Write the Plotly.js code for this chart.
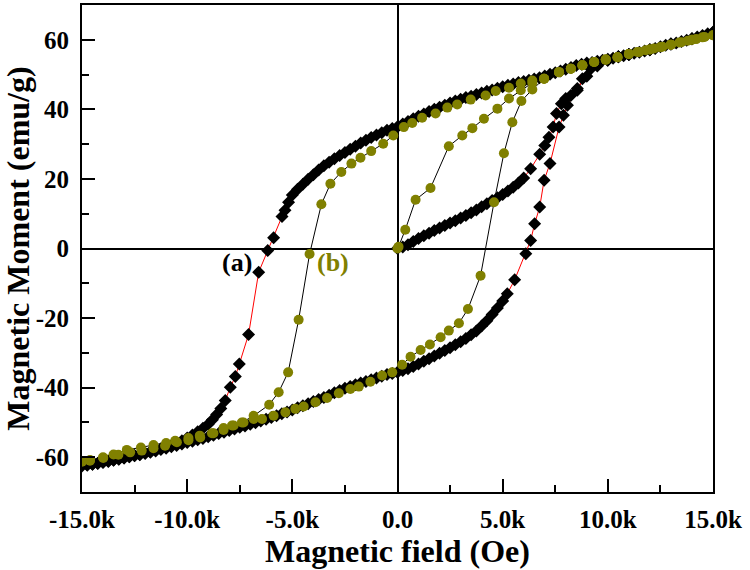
<!DOCTYPE html>
<html>
<head>
<meta charset="utf-8">
<script src="https://cdn.plot.ly/plotly-3.0.1.min.js"></script>
<style>html,body{margin:0;padding:0;background:#fff;}#chart{width:750px;height:570px;}</style>
</head>
<body>
<div id="chart"></div>
<script>
// ---- Sample (a): field (Oe) and moment (emu/g), in measurement order ----
const fieldA = [
  // initial magnetisation
  0, 250, 500, 750, 1000, 1250, 1500, 1750, 2000, 2250, 2500, 2750, 3000, 3250, 3500,
  3750, 4000, 4250, 4500, 4750, 5000, 5250, 5500, 5750, 6000,
  6330, 6760, 7000, 7200, 7400, 7560, 7790, 8000, 8240, 8550, 9000, 9500, 10000,
  10500, 11000, 12000, 13000, 14000, 15000,
  // descending branch
  14750, 14500, 14250, 14000, 13750, 13500, 13250, 13000, 12750, 12500, 12250, 12000,
  11750, 11500, 11250, 11000, 10750, 10500, 10250, 10000, 9750, 9500, 9250, 9000,
  8750, 8500, 8250, 8000, 7750, 7500, 7250, 7000, 6750, 6500, 6250, 6000, 5750, 5500,
  5250, 5000, 4750, 4500, 4250, 4000, 3750, 3500, 3250, 3000, 2750, 2500, 2250, 2000,
  1750, 1500, 1250, 1000, 750, 500, 250, 0, -250, -500, -750, -1000, -1250, -1500,
  -1750, -2000, -2250, -2500, -2750, -3000, -3250, -3500, -3750, -4000, -4250, -4500,
  -4750, -5000, -5180,
  -5350, -5490, -5890, -6170, -6600, -7080, -7520, -7710, -7950, -8190,
  -8400, -8600, -8800, -9000, -9250, -9500, -9750, -10000, -10250, -10500, -10750,
  -11000, -11250, -11500, -11750, -12000, -12250, -12500, -12750, -13000, -13250,
  -13500, -13750, -14000, -14250, -14500, -14750, -15000,
  // ascending branch
  -14750, -14500, -14250, -14000, -13750, -13500, -13250, -13000, -12750, -12500,
  -12250, -12000, -11750, -11500, -11250, -11000, -10750, -10500, -10250, -10000,
  -9750, -9500, -9250, -9000, -8750, -8500, -8250, -8000, -7750, -7500, -7250, -7000,
  -6750, -6500, -6250, -6000, -5750, -5500, -5250, -5000, -4750, -4500, -4250, -4000,
  -3750, -3500, -3250, -3000, -2750, -2500, -2250, -2000, -1750, -1500, -1250, -1000,
  -750, -500, -250, 0, 250, 500, 750, 1000, 1250, 1500, 1750, 2000, 2250, 2500, 2750,
  3000, 3250, 3500, 3750, 4000, 4250, 4500, 4750, 5000, 5220,
  5570, 6100, 6330, 6520, 6760, 6970, 7250, 7680, 7890, 8080, 8550, 8790, 9190, 9500,
  9990, 10500, 11000, 12000, 13000, 14000, 15000
];
const momentA = [
  0, 0.4, 1.1, 2.0, 2.9, 3.7, 4.4, 5.2, 5.9, 6.6, 7.3, 8.0, 8.8, 9.5, 10.3,
  11.1, 12.0, 12.9, 13.8, 14.6, 15.5, 16.5, 17.6, 18.8, 20.3,
  22.9, 27.1, 29.6, 32.0, 34.9, 38.8, 41.6, 43.1, 44.0, 46.0, 49.5, 52.5, 54.1,
  55.1, 55.8, 57.1, 58.8, 60.3, 62.2,
  61.7, 61.2, 60.8, 60.3, 59.9, 59.5, 59.1, 58.8, 58.4, 58.0, 57.5, 57.1,
  56.8, 56.4, 56.1, 55.8, 55.4, 55.1, 54.7, 54.4, 54.1, 53.8, 53.5, 53.3,
  53.0, 52.6, 52.0, 51.5, 51.0, 50.5, 50.1, 49.6, 49.1, 48.7, 48.4, 48.0, 47.7, 47.3,
  46.9, 46.5, 46.1, 45.6, 45.2, 44.7, 44.3, 43.8, 43.4, 42.9, 42.4, 41.8, 41.2, 40.6,
  40.0, 39.4, 38.7, 38.0, 37.3, 36.5, 35.8, 35.0, 34.5, 34.0, 33.3, 32.6, 31.9, 31.1,
  30.3, 29.4, 28.5, 27.6, 26.7, 25.8, 24.8, 23.8, 22.6, 21.2, 19.9, 18.5,
  17.0, 15.4, 13.3,
  11.0, 9.2, 3.1, -0.6, -6.8, -24.7, -33.2, -36.8, -39.9, -43.7,
  -46.0, -47.7, -49.2, -50.5, -51.7, -52.7, -53.6, -54.5, -55.3, -56.0, -56.6,
  -57.1, -57.6, -58.0, -58.4, -58.8, -59.2, -59.5, -59.9, -60.2, -60.6,
  -60.9, -61.2, -61.5, -61.8, -62.0, -62.3, -62.5,
  -62.2, -62.0, -61.7, -61.4, -61.1, -60.8, -60.5, -60.2, -59.9, -59.6,
  -59.3, -58.9, -58.6, -58.2, -57.8, -57.4, -57.0, -56.6, -56.2, -55.8,
  -55.4, -55.0, -54.6, -54.1, -53.7, -53.2, -52.8, -52.3, -51.9, -51.4, -51.0, -50.5,
  -50.1, -49.6, -49.1, -48.6, -48.1, -47.5, -47.0, -46.4, -45.8, -45.2, -44.6, -44.0,
  -43.4, -42.8, -42.2, -41.5, -40.8, -40.2, -39.7, -39.2, -38.7, -38.2, -37.7, -37.2,
  -36.7, -36.2, -35.9, -35.6, -35.1, -34.6, -33.9, -33.2, -32.4, -31.7, -30.9, -30.1, -29.3, -28.5, -27.7,
  -26.8, -25.9, -24.8, -23.7, -22.3, -20.8, -19.0, -17.1, -15.1, -13.0,
  -9.0, -1.5, 2.3, 7.1, 11.9, 19.6, 24.4, 34.9, 38.3, 41.2, 45.5, 48.8, 51.7, 52.8,
  54.1, 55.1, 55.8, 57.1, 58.8, 60.3, 62.2
];

// ---- Sample (b) ----
const fieldB = [
  // initial magnetisation
  0, 50, 370, 860, 1570, 2440, 3080, 3560, 4110, 4750, 5300, 5860, 6410, 6970,
  7680, 8240, 8790, 9350, 9900, 10460, 11000, 11400, 11800, 12200, 12600, 13000,
  13400, 13800, 14200, 14600, 15000,
  // descending branch
  14500, 14000, 13500, 13000, 12500, 12000, 11500, 11000, 10460, 9900, 9350, 8790,
  8240, 7680, 6970, 6410, 5860, 5300, 4670, 4190, 3480, 2840, 2370, 1810, 1170, 700,
  300, -200, -680, -1250, -1760, -2190, -2670, -3190, -3620, -4180, -4700, -5200,
  -5650, -6100, -6840, -7400, -7790, -8270, -8750, -9380, -9940, -10490, -11050,
  -11600, -12160, -12710, -13270, -13990, -14620, -15000,
  // ascending branch
  -14620, -14000, -13500, -12870, -12200, -11600, -11000, -10570, -9940, -9400,
  -8820, -8270, -7870, -7320, -6840, -6440, -5890, -5330, -4860, -4460, -3900, -3350,
  -2790, -2240, -1840, -1290, -730, -250, 220, 620, 1100, 1540, 2050, 2440, 2920,
  3350, 3950, 4590, 5060, 5460, 5890, 6410, 6970, 7680, 8240, 8790, 9350, 9900,
  10460, 11000, 12000, 13000, 14000, 15000
];
const momentB = [
  0, 0.5, 5.4, 14.0, 17.4, 29.4, 32.5, 34.6, 37.3, 40.2, 43.1, 45.5, 47.6, 48.8,
  50.7, 51.7, 52.7, 53.6, 54.3, 55.0, 55.9, 56.5, 57.0, 57.5, 58.0, 58.6,
  59.2, 59.7, 60.2, 60.8, 61.3,
  60.7, 60.0, 59.3, 58.6, 57.9, 57.2, 56.5, 55.9, 55.0, 54.3, 53.6, 52.7,
  51.7, 50.7, 48.8, 48.3, 47.4, 46.2, 45.3, 44.0, 42.8, 41.4, 40.5, 38.8, 37.6, 36.1,
  34.9, 32.5, 30.1, 28.0, 26.1, 24.4, 22.0, 18.6, 12.7, -1.6, -20.5, -35.6,
  -41.3, -44.9, -48.1, -50.0, -50.9, -52.2, -53.1, -54.3, -55.1, -55.7, -56.7,
  -57.4, -58.1, -58.6, -59.3, -60.2, -61.0, -61.3,
  -60.8, -60.0, -59.2, -57.9, -57.2, -56.5, -55.9, -55.3, -54.5, -53.8,
  -53.1, -51.6, -50.9, -50.0, -49.0, -49.0, -48.1, -47.1, -46.1, -45.4, -44.2, -43.0,
  -41.6, -40.4, -39.7, -38.3, -36.5, -35.6, -33.4, -31.1, -29.2, -27.6, -25.5, -23.6, -21.5,
  -17.4, -7.8, 13.3, 27.4, 36.3, 42.4, 45.7, 48.8, 50.7, 51.7, 52.7, 53.6, 54.3,
  55.0, 55.9, 57.2, 58.6, 60.0, 61.3
];

// ---- Axis ticks and labels ----
const xTickVals = [-15000, -10000, -5000, 0, 5000, 10000, 15000];
const xTickText = ["-15.0k", "-10.0k", "-5.0k", "0.0", "5.0k", "10.0k", "15.0k"];
const yTickVals = [-60, -40, -20, 0, 20, 40, 60];
const yTickText = ["-60", "-40", "-20", "0", "20", "40", "60"];
const labelText = ["(a)", "(b)"];
const labelX = [-7620, -3050];
const labelY = [-4, -4];

const FONT = 'Liberation Serif, Times New Roman, serif';
const OLIVE = '#808000';

const traces = [
  {
    x: fieldA, y: momentA, type: 'scatter', mode: 'lines+markers', name: '(a)',
    line: {color: '#ff0000', width: 1},
    marker: {symbol: 'diamond', size: 10, color: '#000000', line: {width: 0}}
  },
  {
    x: fieldB, y: momentB, type: 'scatter', mode: 'lines+markers', name: '(b)',
    line: {color: '#000000', width: 1},
    marker: {symbol: 'circle', size: 10, color: OLIVE, line: {width: 0}}
  }
];

const axisCommon = {
  showline: true, mirror: true, linecolor: '#000', linewidth: 2,
  showgrid: false, zeroline: true, zerolinecolor: '#000', zerolinewidth: 2,
  ticks: 'inside', ticklen: 13, tickwidth: 2, tickcolor: '#000',
  tickfont: {family: FONT, size: 25, color: '#000', weight: 'bold'}
};

const layout = {
  width: 750, height: 570,
  margin: {l: 82, r: 37, t: 5, b: 78},
  paper_bgcolor: '#fff', plot_bgcolor: '#fff',
  showlegend: false,
  xaxis: Object.assign({}, axisCommon, {
    range: [-15000, 15000],
    tickmode: 'array', tickvals: xTickVals, ticktext: xTickText,
    ticklabelstandoff: 4,
    minor: {dtick: 2500, tick0: 0, ticks: 'inside', ticklen: 7, tickwidth: 2, tickcolor: '#000', showgrid: false},
    title: {text: 'Magnetic field (Oe)', standoff: 0,
            font: {family: FONT, size: 32, color: '#000', weight: 'bold'}}
  }),
  yaxis: Object.assign({}, axisCommon, {
    range: [-70, 70],
    tickmode: 'array', tickvals: yTickVals, ticktext: yTickText,
    ticklabelstandoff: 6,
    minor: {dtick: 10, tick0: 0, ticks: 'inside', ticklen: 7, tickwidth: 2, tickcolor: '#000', showgrid: false},
    title: {text: 'Magnetic Moment (emu/g)', standoff: 2,
            font: {family: FONT, size: 32, color: '#000', weight: 'bold'}}
  }),
  annotations: labelText.map((t, i) => ({
    x: labelX[i], y: labelY[i], xref: 'x', yref: 'y', text: t, showarrow: false,
    font: {family: FONT, size: 26, weight: 'bold', color: i === 0 ? '#000' : OLIVE}
  }))
};

Plotly.newPlot('chart', traces, layout, {displayModeBar: false, staticPlot: true});
</script>
</body>
</html>
